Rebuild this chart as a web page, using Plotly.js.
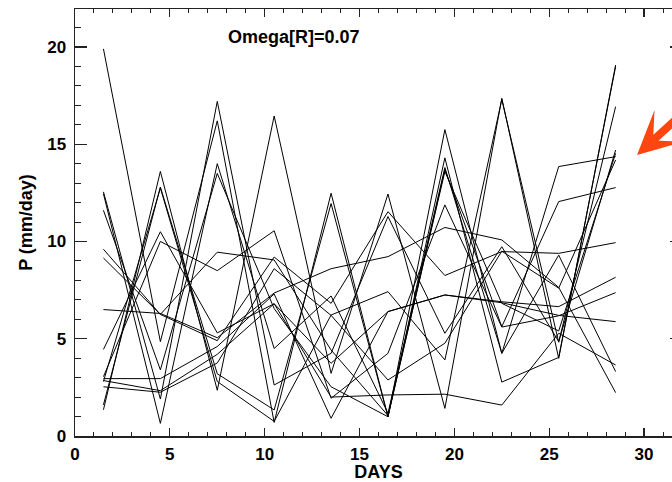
<!DOCTYPE html>
<html>
<head>
<meta charset="utf-8">
<script src="https://cdn.plot.ly/plotly-3.0.1.min.js"></script>
<style>
html,body{margin:0;padding:0;overflow:hidden;background:#fff;}
#chart{width:690px;height:482px;}
</style>
</head>
<body>
<div id="chart"></div>
<script>
// Day centres of the 3-day means
const days = [1.5, 4.5, 7.5, 10.5, 13.5, 16.5, 19.5, 22.5, 25.5, 28.5];

// Precipitation (mm/day) of each ensemble member
const p01 = [19.9, 4.85, 16.2, 0.7, 12.48, 0.99, 15.75, 4.25, 9.3, 3.31];
const p02 = [1.35, 13.6, 2.35, 16.45, 3.22, 12.44, 1.42, 17.36, 3.99, 19.07];
const p03 = [1.6, 12.8, 3.2, 1.34, 11.95, 0.99, 14.3, 2.77, 4.04, 18.99];
const p04 = [2.8, 12.75, 2.8, 0.75, 6.22, 7.42, 3.91, 17.3, 4.82, 16.93];
const p05 = [12.55, 1.9, 17.2, 2.62, 4.25, 11.28, 5.28, 9.73, 4.85, 14.70];
const p06 = [12.45, 0.65, 14.0, 4.5, 7.2, 1.17, 13.8, 4.25, 13.85, 14.36];
const p07 = [11.6, 3.4, 13.5, 6.55, 2.53, 0.99, 13.7, 5.62, 12.05, 12.77];
const p08 = [9.6, 6.25, 9.45, 9.05, 4.42, 1.05, 13.6, 6.82, 5.4, 14.53];
const p09 = [9.15, 6.25, 4.9, 9.2, 6.82, 11.53, 8.25, 9.48, 9.39, 9.94];
const p10 = [6.5, 6.3, 5.05, 7.35, 8.6, 9.22, 10.72, 10.08, 7.64, 2.23];
const p11 = [4.45, 10.5, 5.3, 6.8, 3.74, 6.39, 7.25, 6.9, 6.65, 8.16];
const p12 = [3.05, 10.0, 8.5, 10.55, 1.94, 4.25, 11.88, 5.6, 6.18, 7.37];
const p13 = [2.95, 2.95, 4.6, 7.3, 0.91, 6.4, 7.25, 6.85, 6.2, 5.88];
const p14 = [2.85, 2.33, 4.2, 6.8, 2.0, 2.11, 2.15, 1.59, 5.28, 3.65];
const p15 = [2.53, 2.25, 3.75, 8.6, 6.2, 2.88, 4.77, 9.5, 7.6, 14.19];

const members = [p01, p02, p03, p04, p05, p06, p07, p08, p09, p10, p11, p12, p13, p14, p15];

const xTicks = [0, 5, 10, 15, 20, 25, 30];
const yTicks = [0, 5, 10, 15, 20];

const traces = members.map((vals, i) => ({
  x: days,
  y: vals,
  type: 'scatter',
  mode: 'lines',
  line: {color: '#000', width: 1},
  hoverinfo: 'skip',
  showlegend: false,
  name: 'member ' + (i + 1)
}));

const font = {family: '"Liberation Sans", Arial, sans-serif', color: '#000'};

const layout = {
  width: 690,
  height: 482,
  margin: {l: 75, r: 8, t: 9, b: 46},
  paper_bgcolor: '#fff',
  plot_bgcolor: '#fff',
  font: font,
  showlegend: false,
  xaxis: {
    range: [0, 32],
    tickvals: xTicks,
    ticktext: xTicks.map(v => '<b>' + v + '</b>'),
    ticks: 'inside',
    ticklen: 8,
    tickwidth: 1.2,
    tickcolor: '#222',
    minor: {dtick: 1, tick0: 0, ticks: 'inside', ticklen: 4, tickwidth: 1, tickcolor: '#222'},
    showline: true,
    linecolor: '#222',
    linewidth: 1.5,
    mirror: 'ticks',
    showgrid: false,
    zeroline: false,
    tickfont: {family: font.family, size: 17, color: '#000'},
    ticklabelstandoff: 2,
    title: {text: '<b>DAYS</b>', font: {family: font.family, size: 18, color: '#000'}, standoff: 1}
  },
  yaxis: {
    range: [0, 21.95],
    tickvals: yTicks,
    ticktext: yTicks.map(v => '<b>' + v + '</b>'),
    ticks: 'inside',
    ticklen: 12,
    tickwidth: 1.2,
    tickcolor: '#222',
    minor: {dtick: 1, tick0: 0, ticks: 'inside', ticklen: 6, tickwidth: 1, tickcolor: '#222'},
    showline: true,
    linecolor: '#222',
    linewidth: 1.5,
    mirror: 'ticks',
    showgrid: false,
    zeroline: false,
    tickfont: {family: font.family, size: 17, color: '#000'},
    ticklabelstandoff: 4,
    title: {text: '<b>P (mm/day)</b>', font: {family: font.family, size: 18, color: '#000'}, standoff: 10}
  },
  annotations: [
    {
      xref: 'x', yref: 'y', x: 7.95, y: 20.5,
      xanchor: 'left', yanchor: 'middle',
      text: '<b>Omega[R]=0.07</b>',
      showarrow: false,
      font: {family: font.family, size: 18, color: '#000'}
    },
    {
      xref: 'x', yref: 'y', x: 29.63, y: 14.45,
      text: '',
      showarrow: true,
      arrowhead: 3,
      arrowsize: 0.9,
      arrowwidth: 8,
      arrowcolor: '#ff4510',
      ax: 60, ay: -48
    }
  ]
};

Plotly.newPlot('chart', traces, layout, {displayModeBar: false, staticPlot: true});
</script>
</body>
</html>
